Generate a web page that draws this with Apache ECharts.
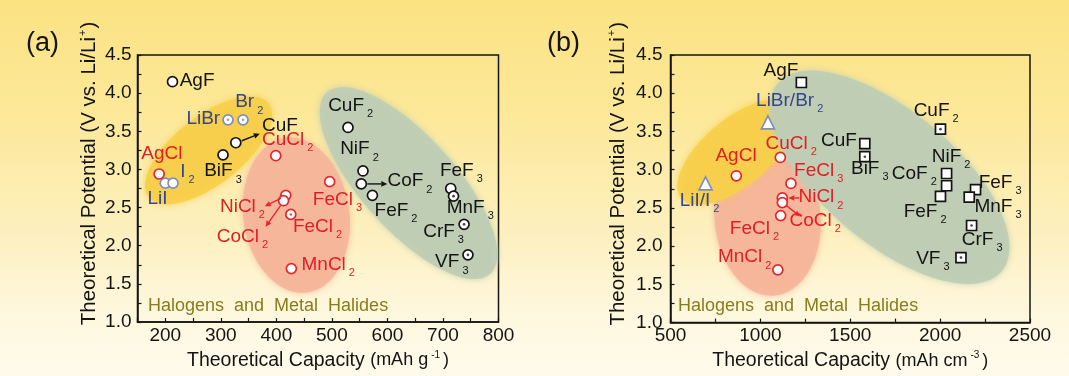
<!DOCTYPE html>
<html>
<head>
<meta charset="utf-8">
<script src="https://cdn.jsdelivr.net/npm/echarts@6/dist/echarts.min.js"></script>
<style>
  html, body { margin: 0; padding: 0; }
  #chart {
    width: 1069px; height: 376px;
    background: linear-gradient(180deg, #fbe283 0%, #fce898 30%, #fdf0bf 62%, #fef8e0 85%, #fffbec 100%);
  }
</style>
</head>
<body>
<div id="chart"></div>
<script>
// ---- (a) gravimetric capacity vs. potential ----
const namesA = ['AgF', 'LiBr', 'Br2', 'CuF', 'BiF3', 'AgCl', 'LiI', 'I2', 'CuCl2', 'NiCl2', 'CoCl2',
  'FeCl2', 'MnCl2', 'FeCl3', 'CuF2', 'NiF2', 'CoF2', 'FeF2', 'FeF3', 'MnF3', 'CrF3', 'VF3'];
const capacityA = [213, 313, 340, 327, 304, 189, 200, 214, 399, 417, 413,
  426, 427, 496, 529, 556, 553, 573, 714, 719, 738, 745];
const potentialA = [4.15, 3.65, 3.65, 3.35, 3.19, 2.94, 2.82, 2.82, 3.18, 2.66, 2.59,
  2.41, 1.70, 2.84, 3.55, 2.98, 2.81, 2.66, 2.75, 2.65, 2.28, 1.88];
const familyA = ['F', 'X', 'X', 'F', 'F', 'Cl', 'X', 'X', 'Cl', 'Cl', 'Cl',
  'Cl', 'Cl', 'Cl', 'F', 'F', 'F', 'F', 'F', 'F', 'F', 'F'];

// ---- (b) volumetric capacity vs. potential ----
const namesB = ['AgF', 'LiBr/Br2', 'AgCl', 'CuCl2', 'LiI/I2', 'FeCl3', 'NiCl2', 'CoCl2', 'FeCl2', 'MnCl2',
  'CuF', 'BiF3', 'CuF2', 'NiF2', 'CoF2', 'FeF2', 'FeF3', 'MnF3', 'CrF3', 'VF3'];
const capacityB = [1228, 1042, 866, 1111, 695, 1170, 1122, 1122, 1113, 1097,
  1581, 1581, 2002, 2036, 2036, 2002, 2197, 2162, 2175, 2116];
const potentialB = [4.14, 3.62, 2.92, 3.16, 2.82, 2.82, 2.63, 2.57, 2.40, 1.69,
  3.34, 3.17, 3.53, 2.95, 2.79, 2.65, 2.74, 2.64, 2.27, 1.85];
const familyB = ['F', 'X', 'Cl', 'Cl', 'X', 'Cl', 'Cl', 'Cl', 'Cl', 'Cl',
  'F', 'F', 'F', 'F', 'F', 'F', 'F', 'F', 'F', 'F'];

// ---- tick labels ----
const xTickLabelsA = [200, 300, 400, 500, 600, 700, 800];
const xTickLabelsB = [500, 1000, 1500, 2000, 2500];
const yTickLabels = [1.0, 1.5, 2.0, 2.5, 3.0, 3.5, 4.0, 4.5];

// ---- layout & styling ----
const FONT = '"Liberation Sans", Arial, Helvetica, sans-serif';
const INK = '#141414';

const FAMILY_STYLE = {
  F:  { stroke: '#141414', text: '#141414', symbolB: 'rect' },
  Cl: { stroke: '#e5262d', text: '#e41d25', symbolB: 'circle' },
  X:  { stroke: '#7d8fbf', text: '#34468e', symbolB: 'triangle' }
};

// label placement: [dx, dy, align] of the label anchor from the marker centre (px)
const labelPlaceA = {
  AgF: [8, 0], LiBr: [-7, 0, 'right'], Br2: [-7, -17], CuF: [27, -16], BiF3: [-18, 17],
  AgCl: [-17, -19], LiI: [-17, 16], I2: [8, -11], CuCl2: [-13, -15], NiCl2: [-65, 12],
  CoCl2: [-66, 37], FeCl2: [3, 13], MnCl2: [11, -3], FeCl3: [-16, 19], CuF2: [-19, -21],
  NiF2: [-22, -21], CoF2: [27, -2], FeF2: [3, 16], FeF3: [-10, -17], MnF3: [-6, 12],
  CrF3: [-40, 8], VF3: [-32, 8]
};
const labelPlaceB = {
  AgF: [-37, -11], 'LiBr/Br2': [-11, -21], AgCl: [-20, -19], CuCl2: [-14, -13], 'LiI/I2': [-25, 18],
  FeCl3: [4, -12], NiCl2: [17, 0], CoCl2: [8, 19], FeCl2: [-50, 14], MnCl2: [-59, -12],
  CuF: [-43, -2], BiF3: [-13, 13], CuF2: [-26, -18], NiF2: [-14, -16], CoF2: [-54, -11],
  FeF2: [-36, 16], FeF3: [4, -6], MnF3: [6, 10], CrF3: [-9, 15], VF3: [-44, 2]
};

// leader arrows: pixel offsets (from, to) measured from the marker centre
const arrowsA = [
  { name: 'CuF', from: [6, -2], to: [24, -9], color: INK },
  { name: 'NiCl2', from: [-5, 3], to: [-21, 11], color: '#e5262d' },
  { name: 'CoCl2', from: [-3, 5], to: [-18, 26], color: '#e5262d' },
  { name: 'CoF2', from: [6, 0], to: [26, 0], color: INK }
];
const arrowsB = [
  { name: 'NiCl2', from: [17, 0], to: [6, 0], color: '#e5262d' },
  { name: 'CoCl2', from: [4, 3], to: [18, 14], color: '#e5262d' }
];

// shaded family regions: centre in axis units, radii in px, tilt in degrees (counter-clockwise)
const regionsA = [
  { x: 436, y: 2.40, rx: 53, ry: 78, angle: 8, color: '#f5b69a' },
  { x: 278, y: 3.25, rx: 76, ry: 34, angle: 38, color: '#f7cf4c' },
  { x: 638, y: 2.82, rx: 122, ry: 47, angle: -48, color: '#bfcdb4' }
];
const regionsB = [
  { x: 1040, y: 2.37, rx: 53, ry: 78, angle: 5, color: '#f5b69a' },
  { x: 868, y: 3.23, rx: 72, ry: 33, angle: 40, color: '#f7cf4c' },
  { x: 1720, y: 2.90, rx: 146, ry: 66, angle: -40, color: '#bfcdb4' }
];

// markers drawn with a centre dot
const dottedA = ['LiBr', 'Br2', 'FeCl2', 'MnF3', 'CrF3', 'VF3'];
const dottedB = ['CuF2', 'BiF3', 'CrF3', 'VF3'];

const sub = s => s.replace(/(\d)/g, '{s|$1}');

function pointSeries(names, xs, ys, fams, fam, panel, place) {
  const st = FAMILY_STYLE[fam];
  const symbol = panel === 0 ? 'circle' : st.symbolB;
  const size = symbol === 'triangle' ? 13 : 10;
  const h = size / 2;
  const data = [];
  names.forEach((n, i) => {
    if (fams[i] !== fam) return;
    const p = place[n] || [8, 0];
    data.push({
      name: n,
      value: [xs[i], ys[i]],
      label: { position: [h + p[0], h + p[1]], align: p[2] || 'left' }
    });
  });
  return {
    type: 'scatter', xAxisIndex: panel, yAxisIndex: panel, z: 3,
    symbol, symbolSize: size,
    itemStyle: { color: '#ffffff', borderColor: st.stroke, borderWidth: 1.7, opacity: 1 },
    label: {
      show: true, formatter: p => sub(p.name), color: st.text,
      fontFamily: FONT, fontSize: 19, verticalAlign: 'middle', textBorderWidth: 0,
      rich: { s: { fontFamily: FONT, fontSize: 11, color: st.text, padding: [17, 0, 0, 3] } }
    },
    emphasis: { disabled: true },
    data
  };
}

function dotSeries(names, xs, ys, fams, dotted, panel) {
  const data = [];
  names.forEach((n, i) => {
    if (dotted.indexOf(n) >= 0) {
      data.push({ value: [xs[i], ys[i]], itemStyle: { color: FAMILY_STYLE[fams[i]].stroke } });
    }
  });
  return { type: 'scatter', xAxisIndex: panel, yAxisIndex: panel, z: 5, symbol: 'circle',
    symbolSize: 2.6, silent: true, data };
}

function regionSeries(regions, panel) {
  return {
    type: 'custom', xAxisIndex: panel, yAxisIndex: panel, z: 1, silent: true, clip: false,
    data: regions.map(r => [r.x, r.y]),
    renderItem: (params, api) => {
      const r = regions[params.dataIndex];
      const c = api.coord([api.value(0), api.value(1)]);
      const th = r.angle * Math.PI / 180;
      const pts = [];
      for (let k = 0; k < 120; k++) {
        const t = k / 120 * Math.PI * 2;
        const ex = r.rx * Math.cos(t), ey = r.ry * Math.sin(t);
        pts.push([c[0] + ex * Math.cos(th) + ey * Math.sin(th),
                  c[1] - ex * Math.sin(th) + ey * Math.cos(th)]);
      }
      return { type: 'polygon', shape: { points: pts },
        style: { fill: r.color, opacity: 0.92, shadowBlur: 6, shadowColor: r.color } };
    }
  };
}

function arrowSeries(arrows, names, xs, ys, panel) {
  return {
    type: 'custom', xAxisIndex: panel, yAxisIndex: panel, z: 4, silent: true, clip: false,
    data: arrows.map(a => { const i = names.indexOf(a.name); return [xs[i], ys[i]]; }),
    renderItem: (params, api) => {
      const a = arrows[params.dataIndex];
      const c = api.coord([api.value(0), api.value(1)]);
      const p0 = [c[0] + a.from[0], c[1] + a.from[1]];
      const p1 = [c[0] + a.to[0], c[1] + a.to[1]];
      const dx = p1[0] - p0[0], dy = p1[1] - p0[1];
      const L = Math.hypot(dx, dy) || 1;
      const ux = dx / L, uy = dy / L, hl = 6, hw = 2.8;
      const base = [p1[0] - ux * hl, p1[1] - uy * hl];
      return {
        type: 'group',
        children: [
          { type: 'line', shape: { x1: p0[0], y1: p0[1], x2: base[0], y2: base[1] },
            style: { stroke: a.color, lineWidth: 1.4 } },
          { type: 'polygon', shape: { points: [p1,
              [base[0] - uy * hw, base[1] + ux * hw], [base[0] + uy * hw, base[1] - ux * hw]] },
            style: { fill: a.color } }
        ]
      };
    }
  };
}

const axisCommon = {
  type: 'value',
  axisLine: { show: true, onZero: false, lineStyle: { color: INK, width: 1.5 } },
  axisTick: { show: true, inside: true, length: 4, lineStyle: { color: INK, width: 1.2 } },
  splitLine: { show: false },
  nameLocation: 'middle'
};

function xAxis(panel, min, max, step, shown, gap, unit) {
  return Object.assign({}, axisCommon, {
    gridIndex: panel, min, max, interval: step,
    axisLabel: { interval: 0, margin: 4, color: INK, fontFamily: FONT, fontSize: 19,
      formatter: v => (shown.indexOf(v) >= 0 ? String(v) : '') },
    name: 'Theoretical Capacity {u|(mAh ' + unit + '}{sup|' + (panel === 0 ? '-1' : '-3') + '}{u|)}',
    nameGap: gap,
    nameTextStyle: { color: INK, fontFamily: FONT, fontSize: 19.5,
      rich: { u: { fontFamily: FONT, fontSize: 18, color: INK },
              sup: { fontFamily: FONT, fontSize: 10, color: INK, padding: [0, 3, 11, 3] } } }
  });
}

function yAxis(panel, gap, margin) {
  return Object.assign({}, axisCommon, {
    gridIndex: panel, min: 1, max: 4.5, interval: 0.5,
    minorTick: { show: true, splitNumber: 2, length: 4, lineStyle: { color: INK, width: 1.2 } },
    axisLabel: { margin, color: INK, fontFamily: FONT, fontSize: 19,
      formatter: v => (yTickLabels.some(t => Math.abs(t - v) < 1e-6) ? v.toFixed(1) : '') },
    name: 'Theoretical Potential (V vs. Li/Li{sup|+})',
    nameGap: gap,
    nameTextStyle: { color: INK, fontFamily: FONT, fontSize: 20.5, padding: [0, 0, 0, 30],
      rich: { sup: { fontFamily: FONT, fontSize: 11, color: INK, padding: [0, 1, 12, 1] } } }
  });
}

const series = [];
series.push(regionSeries(regionsA, 0), regionSeries(regionsB, 1));
['X', 'Cl', 'F'].forEach(f => {
  series.push(pointSeries(namesA, capacityA, potentialA, familyA, f, 0, labelPlaceA));
  series.push(pointSeries(namesB, capacityB, potentialB, familyB, f, 1, labelPlaceB));
});
series.push(dotSeries(namesA, capacityA, potentialA, familyA, dottedA, 0));
series.push(dotSeries(namesB, capacityB, potentialB, familyB, dottedB, 1));
series.push(arrowSeries(arrowsA, namesA, capacityA, potentialA, 0));
series.push(arrowSeries(arrowsB, namesB, capacityB, potentialB, 1));

const caption = (left) => ({
  type: 'text', left, top: 297, z: 10,
  style: { text: 'Halogens  and  Metal  Halides', fill: '#8a7b1d', font: '18px ' + FONT }
});

const option = {
  animation: false,
  grid: [
    { left: 137.5, top: 55, width: 361, height: 267, show: true, borderColor: INK, borderWidth: 1.5, backgroundColor: 'transparent' },
    { left: 670.5, top: 55, width: 359.5, height: 268, show: true, borderColor: INK, borderWidth: 1.5, backgroundColor: 'transparent' }
  ],
  xAxis: [
    xAxis(0, 150, 800, 50, xTickLabelsA, 23, 'g'),
    xAxis(1, 500, 2500, 250, xTickLabelsB, 23, 'cm')
  ],
  yAxis: [yAxis(0, 37, 6), yAxis(1, 41, 8)],
  graphic: [
    { type: 'text', left: 26, top: 30, style: { text: '(a)', fill: INK, font: '27px ' + FONT } },
    { type: 'text', left: 547, top: 30, style: { text: '(b)', fill: INK, font: '27px ' + FONT } },
    caption(148), caption(678)
  ],
  series
};

const chart = echarts.init(document.getElementById('chart'), null, { renderer: 'canvas' });
chart.setOption(option);
</script>
</body>
</html>
